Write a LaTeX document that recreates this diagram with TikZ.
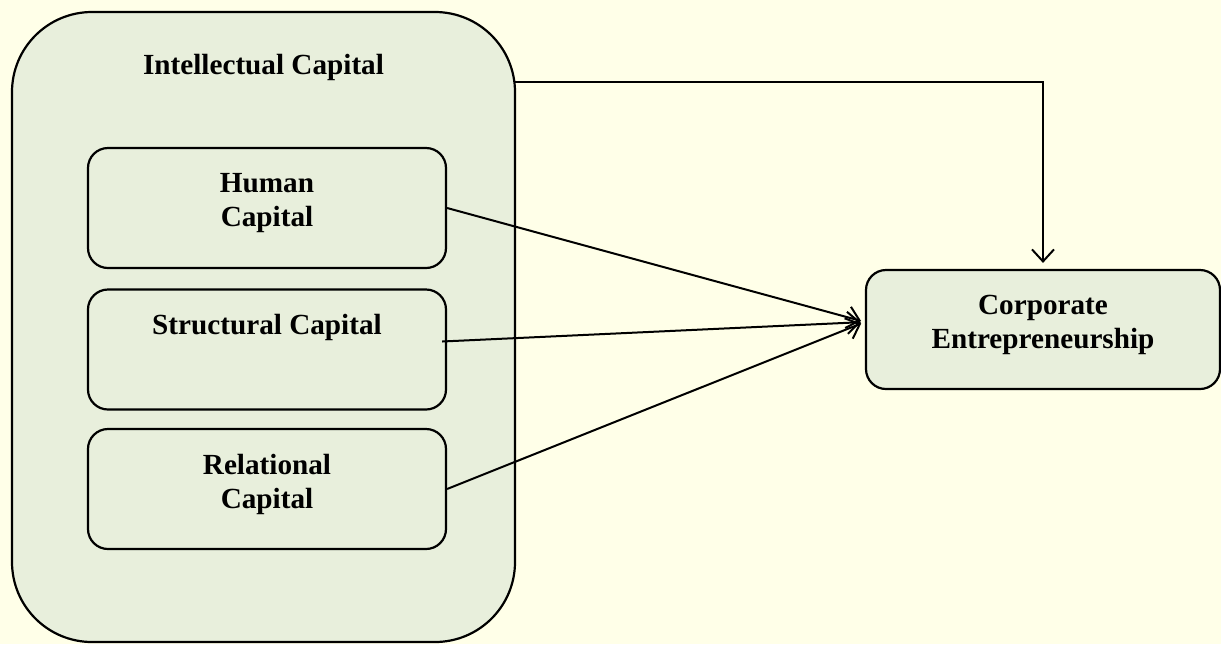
\documentclass[tikz,border=0pt]{standalone}
\usepackage{fontspec}
\setmainfont{Liberation Serif}
\usetikzlibrary{arrows.meta}

\definecolor{boxfill}{RGB}{232,239,220}
\definecolor{pagefill}{RGB}{255,255,232}

\tikzset{
  capbox/.style={draw, line width=1.1pt, fill=boxfill, rounded corners=10pt,
    minimum width=179pt, minimum height=60pt},
  captext/.style={font=\fontsize{14.6}{17}\selectfont\bfseries, align=center},
  link/.style={line width=1pt, -{Straight Barb[length=6pt,width=11pt]}, shorten >=2pt}
}

\begin{document}
\begin{tikzpicture}[x=0.5pt, y=-0.5pt]
  \fill[pagefill] (0,0) rectangle (1221,644);
  \useasboundingbox (0,0) rectangle (1221,644);

  \node[capbox, rounded corners=40pt, minimum width=251.5pt, minimum height=315pt,
    label={[captext, anchor=north, yshift=-18pt]north:Intellectual Capital}] (ic) at (263.5,327) {};

  \node[capbox, label={[captext, anchor=north, yshift=-9.5pt]north:Human\\Capital}] (human) at (267,208) {};
  \node[capbox, label={[captext, anchor=north, yshift=-9.5pt]north:Structural Capital}] (struct) at (267,349.5) {};
  \node[capbox, label={[captext, anchor=north, yshift=-9.5pt]north:Relational\\Capital}] (relat) at (267,489) {};

  \node[capbox, minimum width=177pt, minimum height=59.5pt,
    label={[captext, anchor=north, yshift=-9.5pt]north:Corporate\\Entrepreneurship}] (ce) at (1043,329.5) {};

  \coordinate (ic out) at (515,82);
  \coordinate (ce in) at ([yshift=3.75pt]ce.west);

  \draw[link] (human.east) -- (ce in);
  \draw[link] ([xshift=-2.5pt,yshift=4pt]struct.east) -- (ce in);
  \draw[link] (relat.east) -- (ce in);
  \draw[link, shorten >=3pt] (ic out) -| (ce.north);
\end{tikzpicture}
\end{document}
